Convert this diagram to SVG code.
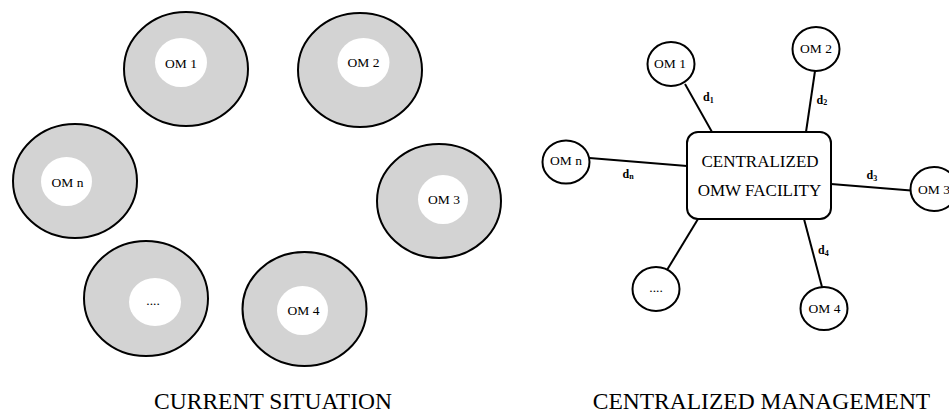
<svg xmlns="http://www.w3.org/2000/svg" width="949" height="414" viewBox="0 0 949 414">
<style>
.outer{fill:#d3d3d3;stroke:#000;stroke-width:2}
.inner{fill:#fff;stroke:none}
.node{fill:#fff;stroke:#000;stroke-width:2}
.box{fill:#fff;stroke:#000;stroke-width:2}
.lbl{font-family:"Liberation Serif","Times New Roman",serif;font-size:13.5px;fill:#000;text-anchor:middle}
.box-t{font-family:"Liberation Serif","Times New Roman",serif;font-size:17px;fill:#000;text-anchor:middle}
.title{font-family:"Liberation Serif","Times New Roman",serif;font-size:23.5px;fill:#000;text-anchor:middle}
.d{font-family:"Liberation Serif","Times New Roman",serif;font-size:12px;font-weight:bold;fill:#000}
.sub{font-size:8px}
.conn{stroke:#000;stroke-width:2;fill:none}
</style>
<rect width="949" height="414" fill="#fff"/>
<!-- Current situation -->
<g id="cur-om1"><ellipse class="outer" cx="186" cy="69" rx="62" ry="57"/><ellipse class="inner" cx="181" cy="62.5" rx="26" ry="24.5"/><text class="lbl" x="181" y="67.5">OM 1</text></g>
<g id="cur-om2"><ellipse class="outer" cx="360" cy="70" rx="62" ry="57"/><ellipse class="inner" cx="363.5" cy="62.5" rx="26" ry="24.5"/><text class="lbl" x="363.5" y="67">OM 2</text></g>
<g id="cur-omn"><ellipse class="outer" cx="75" cy="181" rx="62" ry="57"/><ellipse class="inner" cx="66.5" cy="181.5" rx="25.5" ry="24.5"/><text class="lbl" x="67.5" y="186.5">OM n</text></g>
<g id="cur-om3"><ellipse class="outer" cx="439" cy="201" rx="62" ry="57"/><ellipse class="inner" cx="443" cy="199.5" rx="25" ry="24.5"/><text class="lbl" x="444" y="204">OM 3</text></g>
<g id="cur-dots"><ellipse class="outer" cx="146" cy="298.5" rx="62" ry="57.5"/><ellipse class="inner" cx="155" cy="302" rx="26" ry="24"/><text class="lbl" x="153" y="305">....</text></g>
<g id="cur-om4"><ellipse class="outer" cx="304.5" cy="309" rx="62" ry="57"/><ellipse class="inner" cx="302.5" cy="310.5" rx="25.5" ry="24.5"/><text class="lbl" x="303.5" y="315">OM 4</text></g>
<text class="title" x="273" y="408.5">CURRENT SITUATION</text>
<!-- Centralized management -->
<g id="connectors">
<line class="conn" x1="685" y1="84" x2="712" y2="132"/>
<line class="conn" x1="815" y1="71" x2="806" y2="132"/>
<line class="conn" x1="589.5" y1="158" x2="687" y2="166"/>
<line class="conn" x1="831" y1="184" x2="911" y2="190.5"/>
<line class="conn" x1="698" y1="219" x2="667" y2="270"/>
<line class="conn" x1="804" y1="219" x2="822" y2="287"/>
<text class="d" x="703" y="101">d<tspan class="sub" dy="1.5">1</tspan></text>
<text class="d" x="816.5" y="103.5">d<tspan class="sub" dy="1.5">2</tspan></text>
<text class="d" x="866.5" y="179">d<tspan class="sub" dy="1.5">3</tspan></text>
<text class="d" x="818" y="254">d<tspan class="sub" dy="1.5">4</tspan></text>
<text class="d" x="622.5" y="177.5">d<tspan class="sub" dy="1.5">n</tspan></text>
</g>
<g id="facility"><rect class="box" x="687" y="132" width="144" height="87" rx="11"/><text class="box-t" x="760" y="167">CENTRALIZED</text><text class="box-t" x="759.5" y="196">OMW FACILITY</text></g>
<g id="om1"><ellipse class="node" cx="671" cy="64" rx="23.5" ry="22"/><text class="lbl" x="670" y="68">OM 1</text></g>
<g id="om2"><ellipse class="node" cx="816" cy="49" rx="23.5" ry="22"/><text class="lbl" x="816" y="52.5">OM 2</text></g>
<g id="omn"><ellipse class="node" cx="566" cy="162" rx="23.5" ry="21.5"/><text class="lbl" x="566" y="164.5">OM n</text></g>
<g id="om3"><ellipse class="node" cx="934" cy="189" rx="23.5" ry="22"/><text class="lbl" x="934" y="193.5">OM 3</text></g>
<g id="dots"><ellipse class="node" cx="656" cy="289" rx="23.5" ry="22"/><text class="lbl" x="656" y="292">....</text></g>
<g id="om4"><ellipse class="node" cx="824" cy="308.5" rx="23.5" ry="21.5"/><text class="lbl" x="824.5" y="313">OM 4</text></g>
<text class="title" x="761.5" y="408.5">CENTRALIZED MANAGEMENT</text>
</svg>
